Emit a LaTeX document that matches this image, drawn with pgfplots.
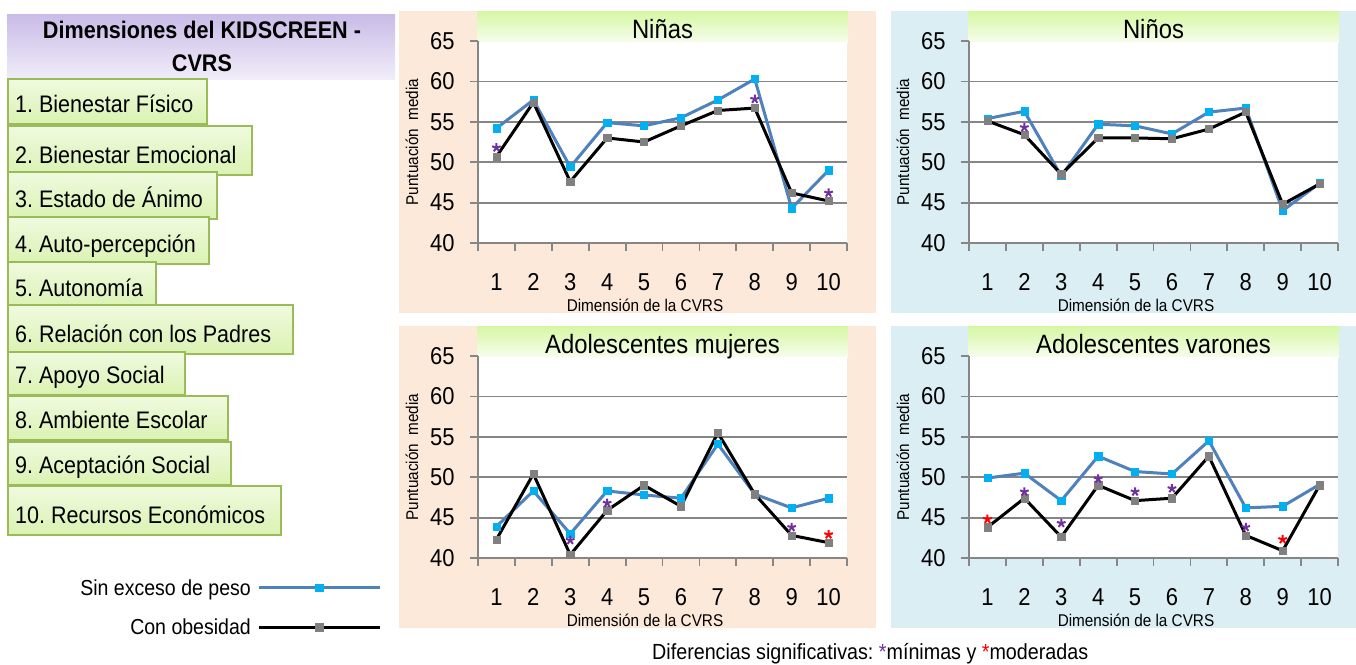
\documentclass[border=0pt]{standalone}
\usepackage{fontspec}
\setmainfont{Liberation Sans}[FakeStretch=0.9]
\usepackage{pgfplots}
\pgfplotsset{compat=1.18}
\frenchspacing

\definecolor{panelpink}{HTML}{FDE9D9}
\definecolor{panelblue}{HTML}{DAEEF3}
\definecolor{bandtop}{HTML}{D6F7A3}
\definecolor{bandbot}{HTML}{F6FDEC}
\definecolor{lavtop}{HTML}{C9BBE7}
\definecolor{lavbot}{HTML}{F1EDF9}
\definecolor{boxtop}{HTML}{F0FADF}
\definecolor{boxbot}{HTML}{DAF2B2}
\definecolor{boxborder}{HTML}{9BBB59}
\definecolor{lineblue}{HTML}{4F81BD}
\definecolor{markcyan}{HTML}{00B0F0}
\definecolor{markgray}{HTML}{808080}
\definecolor{gridgray}{HTML}{868686}
\definecolor{starpurple}{HTML}{7030A0}

\pgfplotsset{
  panel/.style={
    scale only axis, width=369pt, height=202pt, anchor=south west,
    xmin=0.5, xmax=10.5, ymin=40, ymax=65,
    axis x line*=bottom, axis y line*=left,
    axis line style={-, draw=gridgray, line width=1.8pt},
    tick align=outside, major tick length=8pt,
    tick style={draw=gridgray, line width=1.8pt},
    xtick={0.5,1.5,...,10.5}, xticklabels={},
    extra x ticks={1,2,...,10},
    extra x tick labels={1,2,3,4,5,6,7,8,9,10},
    extra x tick style={major tick length=0pt},
    ytick={40,45,...,65},
    extra y ticks={45,50,55,60}, extra y tick labels={},
    extra y tick style={grid=major},
    major grid style={draw=gridgray, line width=1.8pt},
    tick label style={font=\fontsize{24.4}{24}\selectfont, /pgf/number format/assume math mode=true},
    x tick label style={yshift=-27pt},
    y tick label style={xshift=-12pt},
    ylabel={Puntuación\ \ media},
    ylabel style={font=\fontsize{17}{17}\selectfont, at={(axis description cs:-0.179,0.5)}, anchor=center},
    xlabel={Dimensión de la CVRS},
    xlabel style={font=\fontsize{17}{17}\selectfont, at={(axis description cs:0.4526,-0.307)}, anchor=center},
    every axis title/.style={font=\fontsize{26.5}{26}\selectfont, at={(axis description cs:0.5,1.01)}, anchor=base},
    clip=false,
  },
  sin/.style={color=lineblue, line width=3pt, mark=square*, mark size=3.6pt,
    mark options={fill=markcyan, draw=markcyan, line width=0.5pt}},
  obe/.style={color=black, line width=3pt, mark=square*, mark size=3.6pt,
    mark options={fill=markgray, draw=markgray, line width=0.5pt}},
  sigm/.style={only marks, forget plot, mark=star, mark size=4.5pt, color=starpurple,
    mark options={line width=2pt}},
  sigr/.style={only marks, forget plot, mark=star, mark size=4.5pt, color=red,
    mark options={line width=2pt}},
}

\begin{document}
\begin{tikzpicture}[x=1pt,y=1pt]
\useasboundingbox (0,0) rectangle (1356,-664);

% panel backgrounds
\fill[panelpink] (399,-11) rectangle (876,-313);
\fill[panelblue] (891,-11) rectangle (1356,-313);
\fill[panelpink] (399,-326) rectangle (876,-628);
\fill[panelblue] (891,-326) rectangle (1356,-628);
\foreach \dx/\dy in {0/0,491/0,0/315,491/315}{
  \shade[top color=bandtop, bottom color=bandbot] (477+\dx,-11-\dy) rectangle (848+\dx,-42-\dy);
  \fill[white] (478+\dx,-42-\dy) rectangle (847+\dx,-243-\dy);
}

% left column
\shade[top color=lavtop, bottom color=lavbot] (7,-14) rectangle (395,-79);
\node[anchor=base, font=\bfseries\fontsize{24}{24}\selectfont] at (202,-38) {Dimensiones del KIDSCREEN -};
\node[anchor=base, font=\bfseries\fontsize{24}{24}\selectfont] at (202,-71) {CVRS};
\foreach \top/\bot/\rgt/\txt in {
  79/124/207/{1. Bienestar Físico},
  126/175/252/{2. Bienestar Emocional},
  172/219/217/{3. Estado de Ánimo},
  217/264/209/{4. Auto-percepción},
  262/308/156/{5. Autonomía},
  305/354/293/{6. Relación con los Padres},
  352/395/185/{7. Apoyo Social},
  396/440/228/{8. Ambiente Escolar},
  442/485/231/{9. Aceptación Social},
  486/535/281/{10. Recursos Económicos}}{
  \draw[top color=boxtop, bottom color=boxbot, draw=boxborder, line width=2pt] (8,-\top) rectangle (\rgt,-\bot);
  \node[anchor=base west, font=\fontsize{23.9}{24}\selectfont, inner sep=0pt] at (15,-\bot+12) {\txt};
}

% Niñas
\begin{axis}[panel, at={(478pt,-243pt)}, title={Niñas}]
\addplot[sin] coordinates {(1,54.2) (2,57.7) (3,49.4) (4,54.9) (5,54.5) (6,55.5) (7,57.7) (8,60.3) (9,44.3) (10,49.0)};
\addplot[obe] coordinates {(1,50.7) (2,57.4) (3,47.6) (4,53.0) (5,52.5) (6,54.5) (7,56.4) (8,56.7) (9,46.2) (10,45.2)};
\addplot[sigm] coordinates {(1,51.8) (8,57.8) (10,46.2)};
\end{axis}

% Niños
\begin{axis}[panel, at={(969pt,-243pt)}, title={Niños}]
\addplot[sin] coordinates {(1,55.4) (2,56.3) (3,48.3) (4,54.7) (5,54.5) (6,53.5) (7,56.2) (8,56.7) (9,44.0) (10,47.4)};
\addplot[obe] coordinates {(1,55.1) (2,53.4) (3,48.5) (4,53.0) (5,53.0) (6,52.9) (7,54.1) (8,56.2) (9,44.8) (10,47.3)};
\addplot[sigm] coordinates {(2,54.3)};
\end{axis}

% Adolescentes mujeres
\begin{axis}[panel, at={(478pt,-558pt)}, title={Adolescentes mujeres},
  legend plot pos=right, legend cell align=right,
  legend style={draw=none, fill=none, at={(axis description cs:-0.252,-0.085)}, anchor=north east,
    font=\fontsize{21.7}{22}\selectfont, row sep=18pt, column sep=5pt},
  legend image code/.code={\draw[mark repeat=2, mark phase=2, #1] plot coordinates {(0pt,0pt) (60pt,0pt) (121pt,0pt)};}]
\addplot[sin] coordinates {(1,43.9) (2,48.3) (3,43.0) (4,48.3) (5,47.8) (6,47.4) (7,54.1) (8,47.9) (9,46.2) (10,47.4)};
\addlegendentry{Sin exceso de peso}
\addplot[obe] coordinates {(1,42.3) (2,50.4) (3,40.4) (4,45.9) (5,49.0) (6,46.4) (7,55.5) (8,47.9) (9,42.8) (10,41.9)};
\addlegendentry{Con obesidad}
\addplot[sigm] coordinates {(3,42.2) (4,46.8) (9,43.8)};
\addplot[sigr] coordinates {(10,42.9)};
\end{axis}

% Adolescentes varones
\begin{axis}[panel, at={(969pt,-558pt)}, title={Adolescentes varones}]
\addplot[sin] coordinates {(1,49.9) (2,50.5) (3,47.1) (4,52.6) (5,50.7) (6,50.4) (7,54.5) (8,46.2) (9,46.4) (10,49.1)};
\addplot[obe] coordinates {(1,43.8) (2,47.4) (3,42.6) (4,49.0) (5,47.1) (6,47.4) (7,52.6) (8,42.8) (9,40.9) (10,49.0)};
\addplot[sigm] coordinates {(2,48.2) (3,44.3) (4,49.8) (5,48.2) (6,48.6) (8,43.8)};
\addplot[sigr] coordinates {(1,44.8) (9,42.3)};
\end{axis}

\node[anchor=base west, font=\fontsize{21.9}{22}\selectfont, inner sep=0pt] at (652,-659)
  {Diferencias significativas: {\color{starpurple}*}mínimas y {\color{red}*}moderadas};
\end{tikzpicture}
\end{document}
